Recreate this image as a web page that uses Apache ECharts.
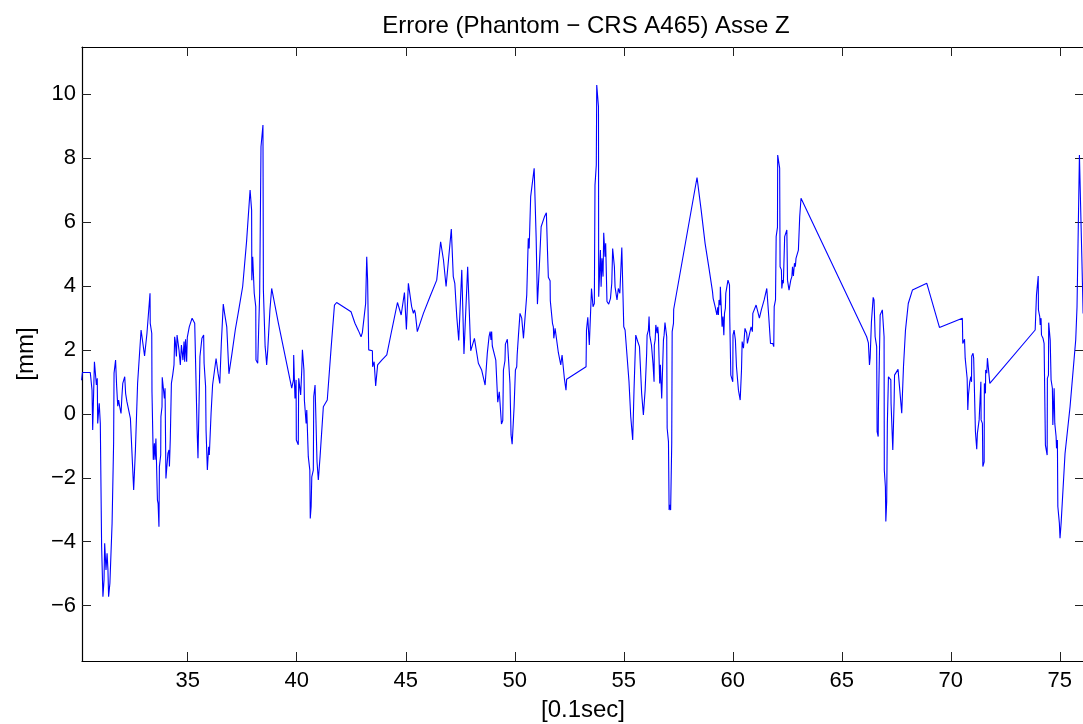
<!DOCTYPE html>
<html>
<head>
<meta charset="utf-8">
<script src="https://cdn.jsdelivr.net/npm/echarts@6/dist/echarts.min.js"></script>
<style>
html,body{margin:0;padding:0;background:#fff;}
#chart{width:1083px;height:724px;}
</style>
</head>
<body>
<div id="chart"></div>
<script>
// ---- data ----
const chartTitle = 'Errore (Phantom \u2212 CRS A465) Asse Z';
const xAxisName = '[0.1sec]';
const yAxisName = '[mm]';
const xTickValues = [35, 40, 45, 50, 55, 60, 65, 70, 75];
const yTickValues = [-6, -4, -2, 0, 2, 4, 6, 8, 10];
const xRange = [30.15, 76.11];
const yRange = [-7.73, 11.47];

const timeValues = [
30.13,30.17,30.53,30.61,30.64,30.70,30.72,30.79,30.81,30.85,30.87,30.91,30.94,30.98,30.99,31.04,31.05,31.11,31.16,31.19,
31.25,31.30,31.34,31.37,31.43,31.53,31.60,31.62,31.69,31.74,31.79,31.83,31.88,31.94,31.98,32.02,32.06,32.11,32.15,32.21,
32.37,32.52,32.60,32.70,32.86,33.02,33.13,33.27,33.28,33.35,33.36,33.41,33.42,33.47,33.50,33.54,33.59,33.61,33.64,33.68,
33.70,33.76,33.77,33.82,33.83,33.91,33.93,33.96,33.99,34.00,34.08,34.09,34.14,34.16,34.19,34.20,34.23,34.25,34.31,34.34,
34.37,34.40,34.43,34.48,34.51,34.55,34.60,34.65,34.66,34.71,34.75,34.78,34.83,34.86,34.90,34.95,34.98,35.04,35.07,35.13,
35.20,35.26,35.32,35.43,35.47,35.56,35.65,35.73,35.75,35.82,35.84,35.90,35.96,35.99,36.07,36.14,36.30,36.39,36.47,36.54,
36.63,36.69,36.79,36.89,37.03,37.18,37.34,37.52,37.70,37.86,37.93,37.94,37.98,38.04,38.05,38.12,38.13,38.21,38.29,38.30,
38.36,38.45,38.47,38.55,38.58,38.62,38.67,38.74,38.77,38.85,39.16,39.77,39.85,39.86,39.89,39.92,39.97,39.98,40.07,40.09,
40.17,40.18,40.23,40.26,40.33,40.35,40.41,40.43,40.46,40.50,40.53,40.60,40.62,40.66,40.69,40.76,40.78,40.84,40.92,40.93,
40.99,41.07,41.22,41.40,41.57,41.73,41.83,42.49,42.67,42.83,42.90,42.95,43.01,43.10,43.16,43.21,43.25,43.30,43.39,43.47,
43.48,43.55,43.59,43.62,43.70,43.71,43.90,44.13,44.36,44.62,44.79,44.94,45.03,45.12,45.20,45.27,45.35,45.40,45.44,45.53,
45.81,46.11,46.42,46.60,46.73,46.85,46.96,47.09,47.18,47.25,47.34,47.43,47.57,47.67,47.84,47.98,48.15,48.33,48.48,48.64,
48.74,48.82,48.87,48.91,48.94,48.97,49.05,49.13,49.22,49.29,49.36,49.39,49.45,49.48,49.55,49.57,49.66,49.72,49.78,49.83,
49.88,49.97,50.03,50.09,50.11,50.15,50.17,50.24,50.32,50.40,50.47,50.55,50.62,50.66,50.73,50.89,50.98,51.04,51.13,51.21,
51.36,51.45,51.50,51.54,51.62,51.63,51.71,51.73,51.77,51.79,51.85,51.92,52.00,52.06,52.11,52.17,52.23,52.28,52.35,52.38,
53.27,53.29,53.35,53.41,53.42,53.50,53.52,53.56,53.59,53.65,53.68,53.74,53.76,53.84,53.85,53.90,53.93,53.96,54.00,54.05,
54.08,54.14,54.17,54.23,54.31,54.39,54.45,54.49,54.57,54.60,54.66,54.69,54.72,54.75,54.82,54.91,55.00,55.06,55.14,55.24,
55.32,55.41,55.47,55.55,55.64,55.72,55.82,55.90,55.98,56.05,56.07,56.13,56.16,56.19,56.25,56.27,56.33,56.34,56.39,56.40,
56.44,56.47,56.53,56.56,56.59,56.62,56.65,56.68,56.71,56.74,56.80,56.82,56.85,56.89,56.97,56.99,57.05,57.08,57.12,57.15,
57.20,57.22,57.28,57.29,58.36,58.55,58.73,58.91,59.07,59.10,59.16,59.19,59.25,59.27,59.31,59.34,59.37,59.42,59.43,59.49,
59.51,59.55,59.59,59.62,59.66,59.68,59.74,59.78,59.85,59.86,59.91,59.95,60.00,60.01,60.06,60.12,60.17,60.26,60.34,60.40,
60.43,60.49,60.56,60.64,60.67,60.75,60.84,60.90,60.92,61.07,61.15,61.22,61.31,61.44,61.56,61.65,61.73,61.83,61.88,61.90,
61.96,61.99,62.05,62.06,62.15,62.17,62.23,62.25,62.29,62.32,62.37,62.38,62.45,62.48,62.51,62.57,62.58,62.64,62.66,62.71,
62.74,62.78,62.83,62.87,62.90,62.97,63.01,63.06,63.07,63.13,66.14,66.22,66.25,66.27,66.30,66.34,66.36,66.42,66.44,66.48,
66.51,66.53,66.60,66.62,66.67,66.68,66.74,66.76,66.82,66.86,66.94,66.95,67.00,67.02,67.06,67.09,67.14,67.22,67.25,67.26,
67.34,67.40,67.42,67.58,67.75,67.83,67.92,68.05,68.24,68.90,69.48,70.53,70.55,70.63,70.66,70.70,70.75,70.78,70.81,70.85,
70.87,70.92,70.95,70.96,71.02,71.05,71.11,71.13,71.18,71.19,71.22,71.27,71.30,71.36,71.38,71.39,71.45,71.47,71.53,71.54,
71.59,71.60,71.65,71.68,71.73,71.76,71.79,73.87,73.91,73.93,73.97,74.01,74.02,74.08,74.10,74.14,74.16,74.19,74.23,74.28,
74.33,74.34,74.42,74.43,74.48,74.49,74.56,74.59,74.60,74.66,74.68,74.72,74.74,74.75,74.77,74.83,74.85,74.89,74.91,74.98,
75.01,75.06,75.24,75.47,75.73,75.79,75.90,76.01,76.07
];

const errorValues = [
1.05,1.29,1.29,0.74,-0.51,-0.45,1.63,1.63,0.90,1.11,-0.30,-0.32,0.33,0.33,-0.30,-0.35,-4.15,-5.72,-5.20,-4.05,
-4.88,-4.36,-4.88,-5.72,-5.30,-3.42,-0.92,1.27,1.68,0.85,0.24,0.43,0.22,0.01,0.54,0.95,0.95,1.16,0.64,0.38,
-0.14,-2.38,-1.13,0.95,2.62,1.81,2.52,3.77,2.83,2.52,0.69,0.69,-1.44,-0.92,-1.44,-0.77,-0.82,-2.70,-2.80,-3.53,
-1.65,-1.29,-0.09,0.22,1.14,1.18,0.48,0.80,0.77,-2.02,-2.07,-1.24,-1.13,-1.65,-1.65,-0.79,-0.82,0.95,1.21,1.21,
1.53,2.41,2.26,1.79,2.46,2.52,1.99,1.99,1.53,2.15,2.20,1.68,2.26,1.63,2.33,1.63,2.39,2.43,2.72,2.78,
2.99,2.99,2.83,-0.51,-1.39,1.79,2.36,2.46,1.58,0.85,-0.51,-1.76,-1.03,-1.29,0.01,0.90,1.73,1.27,0.95,2.20,
3.43,3.14,2.72,1.25,1.89,2.62,3.25,3.98,5.40,7.00,6.37,4.18,4.91,4.91,3.77,3.35,1.68,1.58,1.63,3.77,
8.35,9.03,3.87,2.10,1.89,1.53,2.00,2.05,3.25,3.92,2.83,0.80,1.06,1.84,1.11,0.48,1.06,-0.82,-0.97,1.11,
1.16,0.59,1.37,2.00,1.37,0.43,0.48,-0.30,0.12,0.12,-1.34,-1.76,-3.27,-2.90,-1.97,-1.76,0.54,0.90,0.90,-1.50,
-2.07,-1.34,0.22,0.43,2.00,3.40,3.48,3.19,2.83,2.60,2.54,2.41,2.54,2.54,3.45,4.91,4.18,2.00,1.94,1.97,
1.47,1.63,1.63,0.87,0.90,1.53,1.68,1.84,2.62,3.48,3.09,3.79,2.64,4.08,4.13,3.35,3.14,3.25,3.14,2.57,
3.14,3.66,4.18,5.38,4.81,3.98,4.81,5.78,4.29,4.08,3.04,2.29,4.50,1.87,4.60,1.97,2.36,1.58,1.37,0.90,
1.89,2.41,2.57,2.31,2.57,2.12,2.12,1.68,0.36,0.69,0.69,-0.32,-0.21,1.37,1.66,2.18,2.33,2.33,0.95,-0.66,
-0.95,0.22,1.37,1.47,1.84,1.84,2.46,3.14,2.99,2.36,2.41,3.72,5.49,5.17,6.79,7.68,5.54,3.43,4.65,5.85,
6.16,6.29,5.12,4.27,4.16,3.54,3.54,2.83,2.72,2.36,2.67,2.67,1.91,1.89,1.53,1.84,1.86,1.08,0.74,1.08,
1.47,2.62,3.02,2.99,2.15,2.12,3.92,3.97,3.35,3.45,7.15,7.78,10.28,9.60,3.66,3.61,5.12,3.97,4.86,4.29,
5.66,4.91,5.33,3.51,3.43,3.61,4.08,5.17,4.60,3.97,3.97,3.56,3.51,3.92,3.77,5.20,2.72,2.62,2.57,1.00,
-0.09,-0.82,0.74,2.46,2.26,2.10,0.64,-0.04,0.74,1.89,2.46,2.62,3.04,2.46,2.41,2.15,2.10,1.58,1.00,2.15,
2.31,2.78,2.52,2.72,2.46,2.52,0.95,1.53,1.47,0.48,0.54,2.31,2.46,2.85,2.41,-0.45,-0.87,-3.01,-2.85,-3.01,
-0.92,2.57,2.83,3.27,7.39,6.37,5.33,4.55,3.82,3.61,3.61,3.35,3.33,3.09,3.33,3.09,3.56,3.40,3.97,4.03,
2.72,3.04,2.46,3.14,3.30,3.77,3.77,4.18,4.03,3.04,1.21,1.21,1.00,2.46,2.62,2.31,1.47,0.74,0.43,1.37,
2.26,2.05,2.67,2.52,2.20,2.18,2.72,2.57,3.14,3.40,3.19,2.99,3.25,3.56,3.92,3.04,2.20,2.20,2.10,3.35,
3.56,5.54,5.83,8.09,7.68,4.60,4.50,3.92,4.18,4.08,4.08,5.54,5.54,5.75,4.18,4.13,3.87,3.82,4.18,4.29,
4.60,4.31,4.71,4.60,4.86,4.86,5.12,5.17,6.16,6.74,2.41,2.22,2.26,1.53,1.74,1.74,2.88,2.88,3.64,3.56,
3.56,2.41,2.10,-0.56,-0.71,0.12,0.17,3.09,3.14,3.25,2.41,-1.76,-2.28,-3.37,-2.75,-0.30,1.16,1.16,1.06,0.33,
-1.13,0.38,1.21,1.39,0.02,1.47,2.60,3.45,3.87,4.08,2.70,2.99,2.20,2.33,1.74,1.68,1.11,0.12,0.59,0.54,
1.00,1.16,1.00,1.81,1.89,1.74,1.74,-0.56,-0.61,-1.11,-0.61,-0.66,-0.19,-0.25,1.00,-0.19,-0.30,-1.65,-1.50,0.95,
0.64,1.37,1.27,1.74,1.74,1.79,0.95,2.62,2.57,3.71,3.71,4.31,3.25,3.04,2.78,2.99,2.46,2.52,2.36,2.20,
2.15,-0.98,-1.29,1.11,1.21,2.85,2.31,2.31,1.06,0.80,-0.35,-0.35,0.80,0.80,-0.30,-0.71,-1.08,-0.82,-2.90,-3.42,
-3.89,-3.42,-1.24,0.22,2.31,3.35,8.09,4.91,3.14
];

// ---- chart ----
const seriesData = timeValues.map((t, i) => [t, errorValues[i]]);
const FONT = "'Liberation Sans', Arial, Helvetica, sans-serif";
const fmtNum = v => String(v).replace('-', '\u2212');

const chart = echarts.init(document.getElementById('chart'), null, {renderer: 'canvas'});
chart.setOption({
  animation: false,
  backgroundColor: '#ffffff',
  title: {
    text: chartTitle,
    left: 581, top: 9, textAlign: 'center',
    textStyle: {fontFamily: FONT, fontSize: 24, fontWeight: 'normal', color: '#000'}
  },
  grid: {left: 82, right: -1, top: 47, bottom: 63, containLabel: false, outerBoundsMode: 'none'},
  xAxis: [{
    type: 'value', position: 'bottom', min: xRange[0], max: xRange[1],
    name: xAxisName, nameLocation: 'middle', nameGap: 37,
    nameTextStyle: {fontFamily: FONT, fontSize: 24, color: '#000'},
    axisLine: {show: true, onZero: false, lineStyle: {color: '#000', width: 1.2}},
    axisTick: {show: true, inside: true, length: 9, customValues: xTickValues, lineStyle: {color: '#222', width: 1}},
    axisLabel: {show: true, customValues: xTickValues, margin: 9, fontFamily: FONT, fontSize: 22, color: '#000', formatter: fmtNum},
    splitLine: {show: false}
  }, {
    type: 'value', position: 'top', min: xRange[0], max: xRange[1],
    axisLine: {show: true, onZero: false, lineStyle: {color: '#000', width: 1.2}},
    axisTick: {show: true, inside: true, length: 9, customValues: xTickValues, lineStyle: {color: '#222', width: 1}},
    axisLabel: {show: false},
    splitLine: {show: false}
  }],
  yAxis: [{
    type: 'value', position: 'left', min: yRange[0], max: yRange[1],
    name: yAxisName, nameLocation: 'middle', nameGap: 44, nameRotate: 90,
    nameTextStyle: {fontFamily: FONT, fontSize: 24, color: '#000'},
    axisLine: {show: true, onZero: false, lineStyle: {color: '#000', width: 1.2}},
    axisTick: {show: true, inside: true, length: 9, customValues: yTickValues, lineStyle: {color: '#222', width: 1}},
    axisLabel: {show: true, customValues: yTickValues, margin: 6, fontFamily: FONT, fontSize: 22, color: '#000', formatter: fmtNum},
    splitLine: {show: false}
  }, {
    type: 'value', position: 'right', min: yRange[0], max: yRange[1],
    axisLine: {show: true, onZero: false, lineStyle: {color: '#000', width: 1.2}},
    axisTick: {show: true, inside: true, length: 9, customValues: yTickValues, lineStyle: {color: '#222', width: 1}},
    axisLabel: {show: false},
    splitLine: {show: false}
  }],
  series: [{
    type: 'line',
    xAxisIndex: 0, yAxisIndex: 0,
    data: seriesData,
    showSymbol: false,
    symbol: 'none',
    clip: false,
    lineStyle: {color: '#0000ff', width: 1.1},
    emphasis: {disabled: true}
  }]
});
</script>
</body>
</html>
